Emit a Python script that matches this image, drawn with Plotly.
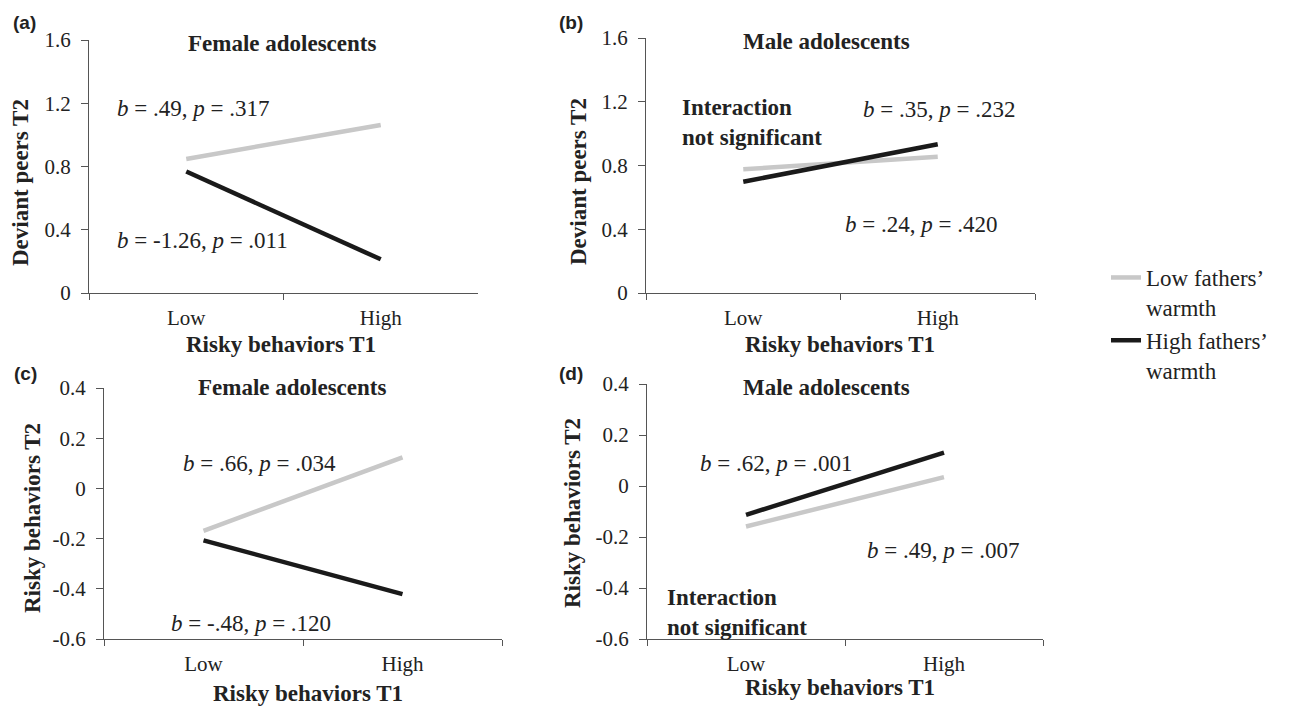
import plotly.graph_objects as go

W, H = 1289, 706
OFF = 8  # page body margin of the browser

# ---------------- data ----------------
categories = ["Low", "High"]

# (a) Deviant peers T2 - female
a_low_warmth = [0.848, 1.063]
a_high_warmth = [0.768, 0.213]
# (b) Deviant peers T2 - male
b_low_warmth = [0.776, 0.855]
b_high_warmth = [0.698, 0.933]
# (c) Risky behaviors T2 - female
c_low_warmth = [-0.169, 0.124]
c_high_warmth = [-0.207, -0.421]
# (d) Risky behaviors T2 - male
d_low_warmth = [-0.159, 0.035]
d_high_warmth = [-0.113, 0.131]

peers_ticks = [0, 0.4, 0.8, 1.2, 1.6]
peers_ticktext = ["0", "0.4", "0.8", "1.2", "1.6"]
risky_ticks = [-0.6, -0.4, -0.2, 0, 0.2, 0.4]
risky_ticktext = ["-0.6", "-0.4", "-0.2", "0", "0.2", "0.4"]

series_names = ["Low fathers\u2019<br>warmth", "High fathers\u2019<br>warmth"]

# ---------------- styles ----------------
GRAY = "#c8c8c8"
BLACK = "#1a1a1a"
AXIS = "#555555"
SERIF = "Liberation Serif"
SANS = "Liberation Sans"


def X(px):
    return (px - OFF) / W


def Y(py):
    return 1 - (py - OFF) / H


fig = go.Figure()

panels = [
    ("x", "y", a_low_warmth, a_high_warmth, True),
    ("x2", "y2", b_low_warmth, b_high_warmth, False),
    ("x3", "y3", c_low_warmth, c_high_warmth, False),
    ("x4", "y4", d_low_warmth, d_high_warmth, False),
]
for xa, ya, lo, hi, show in panels:
    fig.add_trace(go.Scatter(x=categories, y=lo, mode="lines", xaxis=xa, yaxis=ya,
                             line=dict(color=GRAY, width=4.5), name=series_names[0],
                             showlegend=show, legendgroup="low"))
    fig.add_trace(go.Scatter(x=categories, y=hi, mode="lines", xaxis=xa, yaxis=ya,
                             line=dict(color=BLACK, width=4.5), name=series_names[1],
                             showlegend=show, legendgroup="high"))

# domains in pixels: (x0, x1, ytop, ybottom)
doms = {
    "1": (89, 478, 40, 293),
    "2": (646, 1035, 38, 293),
    "3": (104, 502, 388, 639),
    "4": (647, 1043, 384, 639),
}

xcommon = dict(type="category", range=[-0.5, 1.5], tickson="boundaries", ticks="outside",
               ticklen=6, tickcolor=AXIS, showline=True, linecolor=AXIS, linewidth=1,
               showgrid=False, zeroline=False, ticklabelstandoff=6, automargin=False,
               tickfont=dict(family=SERIF, size=21, color="#222222"))
ycommon = dict(ticks="outside", ticklen=7, tickcolor=AXIS, showline=True, linecolor=AXIS,
               linewidth=1, showgrid=False, zeroline=False, ticklabelstandoff=6,
               automargin=False,
               tickfont=dict(family=SERIF, size=21, color="#222222"))

layout = {}
for k, (x0, x1, yt, yb) in doms.items():
    xs = "xaxis" if k == "1" else f"xaxis{k}"
    ys = "yaxis" if k == "1" else f"yaxis{k}"
    yid = "y" if k == "1" else f"y{k}"
    xid = "x" if k == "1" else f"x{k}"
    layout[xs] = dict(xcommon, domain=[X(x0), X(x1)], anchor=yid)
    if k in ("1", "2"):
        layout[ys] = dict(ycommon, domain=[Y(yb), Y(yt)], anchor=xid, range=[0, 1.6],
                          tickvals=peers_ticks, ticktext=peers_ticktext)
    else:
        layout[ys] = dict(ycommon, domain=[Y(yb), Y(yt)], anchor=xid, range=[-0.6, 0.4],
                          tickvals=risky_ticks, ticktext=risky_ticktext)

fig.update_layout(**layout)

ann = []


def txt(text, x, y, size=23, bold=False, xanchor="center", family=SERIF,
        angle=0, align="center"):
    if bold:
        text = f"<b>{text}</b>"
    ann.append(dict(text=text, x=X(x), y=Y(y), xref="paper", yref="paper", showarrow=False,
                    xanchor=xanchor, yanchor="middle", textangle=angle, align=align,
                    font=dict(family=family, size=size, color="#222222")))


def stat(bv, pv):
    return f"<i>b</i> = {bv}, <i>p</i> = {pv}"


# panel letters
txt("(a)", 24, 22, size=19, bold=True, family=SANS)
txt("(b)", 571, 22, size=19, bold=True, family=SANS)
txt("(c)", 25, 373, size=19, bold=True, family=SANS)
txt("(d)", 571, 373, size=19, bold=True, family=SANS)

# titles
txt("Female adolescents", 282, 43, bold=True)
txt("Male adolescents", 826, 42, bold=True)
txt("Female adolescents", 292, 388, bold=True)
txt("Male adolescents", 826, 387, bold=True)

# y-axis titles
txt("Deviant peers T2", 20, 183, bold=True, angle=-90)
txt("Deviant peers T2", 578, 182, bold=True, angle=-90)
txt("Risky behaviors T2", 32, 518, bold=True, angle=-90)
txt("Risky behaviors T2", 572, 513, bold=True, angle=-90)

# x-axis titles
txt("Risky behaviors T1", 281, 344, bold=True)
txt("Risky behaviors T1", 840, 344, bold=True)
txt("Risky behaviors T1", 308, 693, bold=True)
txt("Risky behaviors T1", 840, 687, bold=True)

# slope annotations
txt(stat(".49", ".317"), 115, 108, xanchor="left")
txt(stat("-1.26", ".011"), 115, 240, xanchor="left")
txt(stat(".35", ".232"), 861, 109, xanchor="left")
txt(stat(".24", ".420"), 843, 224, xanchor="left")
txt(stat(".66", ".034"), 181, 463, xanchor="left")
txt(stat("-.48", ".120"), 169, 623, xanchor="left")
txt(stat(".62", ".001"), 698, 463, xanchor="left")
txt(stat(".49", ".007"), 865, 550, xanchor="left")

# interaction notes
txt("Interaction<br>not significant", 680, 123, bold=True, xanchor="left", align="left")
txt("Interaction<br>not significant", 665, 612, bold=True, xanchor="left", align="left")

fig.update_layout(
    annotations=ann,
    width=W, height=H,
    margin=dict(l=0, r=0, t=0, b=0, autoexpand=False),
    paper_bgcolor="white", plot_bgcolor="white",
    showlegend=True,
    legend=dict(x=X(1106), y=Y(256), xanchor="left", yanchor="top", valign="top",
                font=dict(family=SERIF, size=23, color="#222222"), tracegroupgap=0,
                bgcolor="rgba(0,0,0,0)"),
)

fig.write_html("out.html")
